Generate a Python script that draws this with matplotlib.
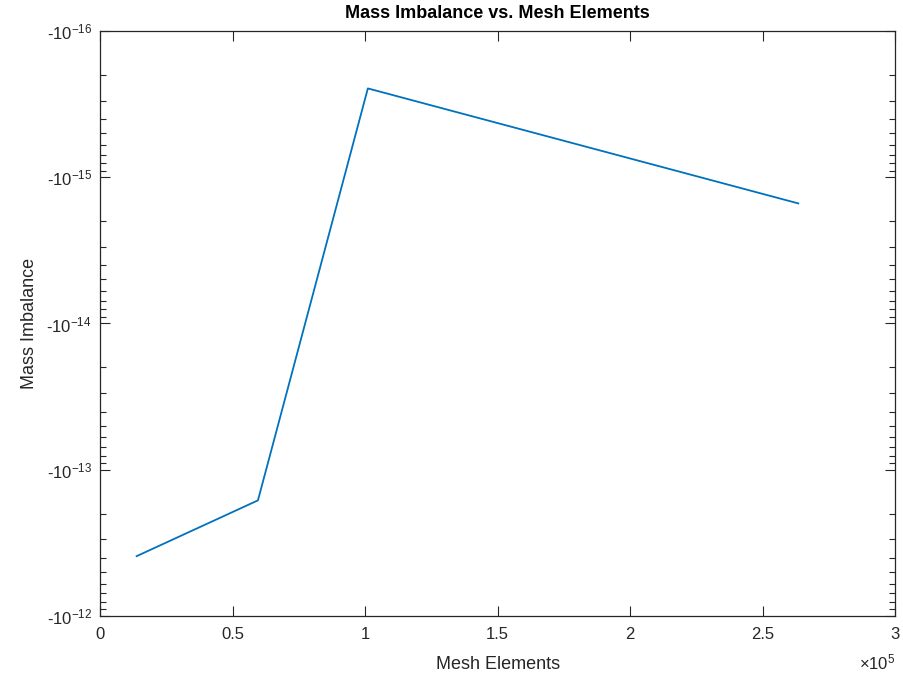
import matplotlib
matplotlib.use("Agg")
import matplotlib.pyplot as plt
import numpy as np
from matplotlib.ticker import FuncFormatter, FixedLocator, LogLocator, NullFormatter

plt.rcParams['font.family'] = ['Liberation Sans', 'DejaVu Sans']
plt.rcParams['mathtext.fontset'] = 'custom'
plt.rcParams['mathtext.rm'] = 'Liberation Sans'
plt.rcParams['mathtext.it'] = 'Liberation Sans'

mesh_elements = [13700, 59500, 101000, 263500]
mass_imbalance = [-3.9e-13, -1.62e-13, -2.47e-16, -1.51e-15]
x_ticks = [0, 50000, 100000, 150000, 200000, 250000, 300000]
x_tick_labels = ['0', '0.5', '1', '1.5', '2', '2.5', '3']
y_exponents = [-16, -15, -14, -13, -12]

fig = plt.figure(figsize=(9.04, 6.81), dpi=100)
ax = fig.add_axes([0.111, 0.0955, 0.879, 0.859])

mag = np.abs(np.array(mass_imbalance))
ax.plot(mesh_elements, mag, color='#0072BD', lw=1.3)
ax.set_yscale('log')
ax.set_ylim(10.0**y_exponents[-1], 10.0**y_exponents[0])  # inverted: larger magnitude at bottom
ax.set_xlim(0, 300000)

ax.yaxis.set_major_locator(FixedLocator([10.0**e for e in y_exponents]))
ax.yaxis.set_major_formatter(FuncFormatter(lambda v, p: r'-10$^{%d}$' % int(round(np.log10(v)))))
ax.yaxis.set_minor_locator(LogLocator(base=10, subs=np.arange(2, 10)))
ax.yaxis.set_minor_formatter(NullFormatter())

ax.set_xticks(x_ticks)
ax.set_xticklabels(x_tick_labels)

ax.tick_params(which='both', direction='in', top=True, right=True, labelsize=12, colors='#262626')
ax.tick_params(which='major', length=7, width=0.8)
ax.tick_params(which='minor', length=4, width=0.8)
ax.tick_params(axis='x', pad=8)
ax.tick_params(axis='y', pad=6)
for s in ax.spines.values():
    s.set_linewidth(0.9)
    s.set_color('#262626')

ax.set_title('Mass Imbalance vs. Mesh Elements', fontsize=13, fontweight='bold', pad=9)
ax.set_xlabel('Mesh Elements', fontsize=13, color='#262626', labelpad=10)
ax.set_ylabel('Mass Imbalance', fontsize=13, color='#262626', labelpad=6)
ax.text(1.0, -0.062, r'$\times 10^{5}$', transform=ax.transAxes, ha='right', va='top',
        fontsize=12, color='#262626')

fig.savefig('out.png', dpi=100)
